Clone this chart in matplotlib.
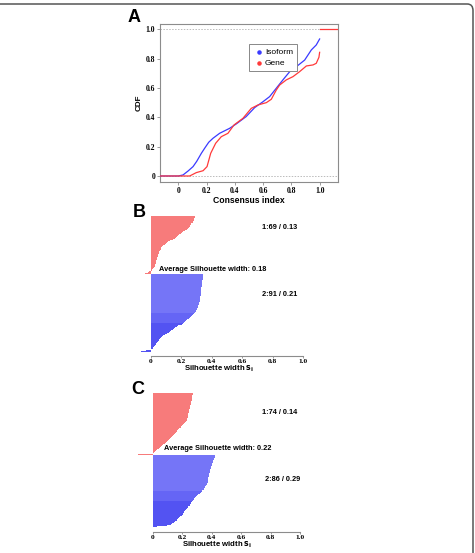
import matplotlib
matplotlib.use("Agg")
import matplotlib.pyplot as plt
import numpy as np
from matplotlib.patches import FancyBboxPatch

# ---------------- data ----------------
iso_x = [-0.13, 0.0, 0.033, 0.07, 0.104, 0.13, 0.163, 0.186, 0.215, 0.245, 0.292, 0.363,
         0.41, 0.48, 0.54, 0.6, 0.646, 0.693, 0.74, 0.788, 0.835, 0.894, 0.941, 0.976, 1.0]
iso_y = [0, 0, 0.007, 0.035, 0.064, 0.1, 0.155, 0.189, 0.23, 0.257, 0.291, 0.325,
         0.355, 0.405, 0.466, 0.507, 0.541, 0.598, 0.655, 0.711, 0.745, 0.79, 0.859, 0.893, 0.934]
gene_x = [-0.13, 0.0, 0.08, 0.127, 0.175, 0.203, 0.229, 0.264, 0.304, 0.351, 0.394, 0.457,
          0.516, 0.563, 0.623, 0.658, 0.693, 0.717, 0.764, 0.811, 0.858, 0.906, 0.953, 0.976,
          0.995, 1.0]
gene_y = [0, 0, 0, 0.023, 0.036, 0.064, 0.155, 0.223, 0.268, 0.291, 0.348, 0.393,
          0.461, 0.484, 0.5, 0.523, 0.586, 0.62, 0.655, 0.677, 0.711, 0.75, 0.757, 0.768,
          0.809, 0.843]
tail_x = [1.0, 1.13]
tail_y = [1.0, 1.0]

cdf_ticks = [0, 0.2, 0.4, 0.6, 0.8, 1.0]
cdf_ticklabels = ["0", "0.2", "0.4", "0.6", "0.8", "1.0"]

B_cl1 = [0.29, 0.29, 0.288, 0.286, 0.284, 0.282,
         0.279, 0.276, 0.272, 0.268, 0.264, 0.26,
         0.256, 0.253, 0.25, 0.247,
         0.236, 0.225, 0.214,
         0.205, 0.198,
         0.19, 0.185, 0.179, 0.174,
         0.168, 0.158, 0.147, 0.137,
         0.126, 0.117, 0.108, 0.099,
         0.093, 0.087, 0.081, 0.075,
         0.071, 0.068, 0.065, 0.063, 0.06, 0.058,
         0.056, 0.053, 0.051, 0.049, 0.047, 0.045,
         0.043, 0.042, 0.04, 0.038, 0.037, 0.035,
         0.034, 0.032, 0.03, 0.028, 0.026, 0.024,
         0.02, 0.016, 0.012, 0.008,
         -0.01, -0.02, -0.04, -0.055]
B_cl2 = [0.345, 0.345, 0.344, 0.343, 0.342, 0.341,
         0.341, 0.34, 0.339, 0.338, 0.337, 0.336, 0.335, 0.334,
         0.334, 0.333, 0.333, 0.332, 0.332, 0.331, 0.331, 0.33,
         0.33, 0.329, 0.328, 0.327, 0.326, 0.325, 0.324, 0.323,
         0.322, 0.321, 0.32, 0.318, 0.317, 0.316, 0.314, 0.313,
         0.311, 0.308, 0.306, 0.303, 0.3, 0.297, 0.294, 0.291,
         0.286, 0.279, 0.272, 0.265, 0.258, 0.25,
         0.244, 0.238, 0.232, 0.226, 0.22, 0.215,
         0.205, 0.193, 0.182, 0.171,
         0.163, 0.156, 0.149, 0.142, 0.135, 0.128,
         0.118, 0.107, 0.095, 0.084,
         0.078, 0.073, 0.068, 0.063, 0.058, 0.052,
         0.046, 0.043, 0.04, 0.036, 0.032, 0.029,
         0.025, 0.021, 0.017, 0.013,
         0.005, -0.03, -0.065]
C_cl1 = [0.271, 0.271, 0.27, 0.269, 0.268, 0.267, 0.266, 0.265,
         0.264, 0.263, 0.262, 0.261, 0.259, 0.258, 0.256, 0.255,
         0.253, 0.252, 0.25, 0.249, 0.248, 0.246, 0.245, 0.244,
         0.242, 0.241, 0.24, 0.239, 0.237, 0.236, 0.235, 0.233, 0.232,
         0.228, 0.222, 0.216, 0.211,
         0.208, 0.2, 0.194, 0.189,
         0.185, 0.177, 0.17, 0.165,
         0.163, 0.158, 0.152, 0.146, 0.142,
         0.138, 0.131, 0.125, 0.119,
         0.115, 0.108, 0.102, 0.097,
         0.092, 0.085, 0.077, 0.07,
         0.064, 0.057, 0.05, 0.043,
         0.036, 0.029, 0.022, 0.016,
         0.008, 0.0, -0.04, -0.098]
C_cl2 = [0.423, 0.421, 0.42, 0.418, 0.416, 0.414,
         0.412, 0.41, 0.408, 0.406, 0.404, 0.402,
         0.4, 0.398, 0.396, 0.394, 0.392, 0.39,
         0.389, 0.388, 0.386, 0.385, 0.384, 0.382, 0.381, 0.379,
         0.378, 0.377, 0.377, 0.376, 0.375, 0.374, 0.373, 0.372,
         0.369, 0.366, 0.362, 0.358,
         0.355, 0.35, 0.346, 0.342, 0.338, 0.335,
         0.331, 0.322,
         0.308, 0.303, 0.298, 0.293, 0.288,
         0.282, 0.278, 0.274, 0.27, 0.266,
         0.263, 0.259, 0.255, 0.25, 0.246, 0.242,
         0.238, 0.233, 0.228, 0.222,
         0.219, 0.215, 0.211, 0.207, 0.203, 0.198,
         0.193, 0.187, 0.181, 0.175,
         0.168, 0.162, 0.157, 0.151,
         0.142, 0.133, 0.124,
         0.1, 0.072, 0.03]

B_texts = ["1:69 / 0.13", "Average Silhouette width: 0.18", "2:91 / 0.21"]
C_texts = ["1:74 / 0.14", "Average Silhouette width: 0.22", "2:86 / 0.29"]
sil_ticks = [0, 0.2, 0.4, 0.6, 0.8, 1.0]
sil_ticklabels = ["0", "0.2", "0.4", "0.6", "0.8", "1.0"]

# ---------------- style ----------------
SANS = "Liberation Sans"
SERIF = "Liberation Serif"
BLUE = "#3a3aff"
RED = "#ff3a3a"
FILL_RED = "#f77b7b"
FILL_BLUE_L = "#7575f7"
FILL_BLUE_M = "#6565f5"
FILL_BLUE_D = "#5353f2"
AX_GRAY = "#8c8c8c"

W, H = 475, 553
fig = plt.figure(figsize=(W / 100, H / 100), dpi=100)


def px_axes(l, t, r, b):
    return fig.add_axes([l / W, 1 - b / H, (r - l) / W, (b - t) / H])


# outer frame (rounded corner at top right)
frame = FancyBboxPatch((-20 / W, -20 / H), (473 + 20) / W, (549 + 20) / H,
                       boxstyle="round,pad=0,rounding_size=0.012",
                       transform=fig.transFigure, fill=False,
                       edgecolor="#555555", linewidth=1.1, clip_on=False)
fig.patches.append(frame)

# ---------------- panel A ----------------
axA = px_axes(160, 24, 338, 182)
axA.set_xlim(-0.13, 1.13)
axA.set_ylim(-0.041, 1.036)
axA.axhline(0, color="#bbbbbb", lw=0.7, ls=(0, (1.5, 1.5)), zorder=1)
axA.axhline(1, color="#bbbbbb", lw=0.7, ls=(0, (1.5, 1.5)), zorder=1)
axA.plot(iso_x, iso_y, color=BLUE, lw=0.9, zorder=3)
axA.plot(gene_x, gene_y, color=RED, lw=0.9, zorder=3)
axA.plot(tail_x, tail_y, color=RED, lw=0.9, zorder=3)
for s in axA.spines.values():
    s.set_color(AX_GRAY)
    s.set_linewidth(0.8)
axA.set_xticks(cdf_ticks)
axA.set_xticklabels(cdf_ticklabels)
axA.set_yticks(cdf_ticks)
axA.set_yticklabels(cdf_ticklabels)
axA.tick_params(length=2, width=0.6, color=AX_GRAY, pad=1.5)
for lab in axA.get_xticklabels() + axA.get_yticklabels():
    lab.set_fontfamily(SERIF)
    lab.set_fontweight("bold")
    lab.set_fontsize(5.5)
axA.set_xlabel("Consensus index", fontfamily=SANS, fontweight="bold", fontsize=6.2, labelpad=0.5)
axA.set_ylabel("CDF", fontfamily=SANS, fontweight="bold", fontsize=5.8, labelpad=2)
hI = axA.scatter([], [], s=5, color=BLUE, label="Isoform")
hG = axA.scatter([], [], s=5, color=RED, label="Gene")
leg = axA.legend(handles=[hI, hG], loc="upper left", bbox_to_anchor=(0.502, 0.873),
                 prop={"family": SANS, "size": 6.0}, fancybox=False, framealpha=1,
                 edgecolor="#888888", handletextpad=0.1, borderpad=0.55,
                 labelspacing=0.3, handlelength=1.2, borderaxespad=0)
leg.get_frame().set_linewidth(0.7)

fig.text(128 / W, 1 - 18 / H, "A", fontfamily=SANS, fontweight="bold", fontsize=13,
         va="center", ha="left")


# ---------------- silhouette panels ----------------
def sil_panel(l, t, r, b, xlim, ylim_bottom, cl1, cl2, texts, text_pos):
    ax = px_axes(l, t, r, b)
    vals = list(cl1) + list(cl2)
    n1 = len(cl1)
    n2 = len(cl2)
    cols = [FILL_RED] * n1
    for i in range(n2):
        if i < n2 * 0.5:
            cols.append(FILL_BLUE_L)
        elif i < n2 * 0.62:
            cols.append(FILL_BLUE_M)
        else:
            cols.append(FILL_BLUE_D)
    ax.barh(np.arange(len(vals)), vals, height=1.0, color=cols, linewidth=0)
    ax.set_xlim(*xlim)
    ax.set_ylim(ylim_bottom, -0.5)
    for k in ("left", "right", "top"):
        ax.spines[k].set_visible(False)
    ax.spines["bottom"].set_bounds(0, 1)
    ax.spines["bottom"].set_color(AX_GRAY)
    ax.spines["bottom"].set_linewidth(0.8)
    ax.set_yticks([])
    ax.set_xticks(sil_ticks)
    ax.set_xticklabels(sil_ticklabels)
    ax.tick_params(axis="x", length=1.6, width=0.6, color=AX_GRAY, pad=0.6)
    for lab in ax.get_xticklabels():
        lab.set_fontfamily(SERIF)
        lab.set_fontweight("bold")
        lab.set_fontsize(5.3)
    ax.set_xlabel(r"Silhouette width $\mathbf{s_i}$", fontfamily=SANS, fontweight="bold",
                  fontsize=5.6, labelpad=-0.2)
    for txt, (x, y, ha) in zip(texts, text_pos):
        ax.text(x, y, txt, ha=ha, va="center", fontfamily=SANS, fontweight="bold",
                fontsize=5.3)
    ax.patch.set_alpha(0)
    return ax


axB = sil_panel(135.4, 215.7, 303, 356, (-0.1, 1.0), 164.5, B_cl1, B_cl2, B_texts,
                [(0.965, 13.4, "right"), (0.056, 62.8, "left"), (0.965, 91.6, "right")])
axC = sil_panel(135.0, 393.3, 300, 531.5, (-0.12, 1.0), 164.5, C_cl1, C_cl2, C_texts,
                [(0.978, 22.4, "right"), (0.079, 66.0, "left"), (1.0, 102.4, "right")])

fig.text(133 / W, 1 - 212.5 / H, "B", fontfamily=SANS, fontweight="bold", fontsize=13,
         va="center", ha="left")
fig.text(131 / W, 1 - 390 / H, "C", fontfamily=SANS, fontweight="bold", fontsize=13,
         va="center", ha="left")

fig.savefig("out.png", dpi=100)
